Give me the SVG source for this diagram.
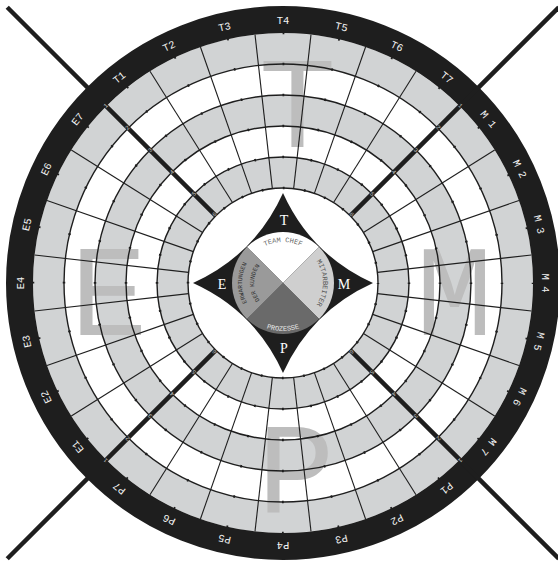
<svg xmlns="http://www.w3.org/2000/svg" width="558" height="563" viewBox="0 0 558 563">
<style>
.band{fill:#d1d3d4}
.w{fill:#fff}
.ring{fill:none;stroke:#1e1e1e;stroke-width:1.4}
.tick{fill:none;stroke:#1e1e1e;stroke-width:2.5}
.rad{stroke:#1e1e1e;stroke-width:1.1}
.diag{stroke:#1e1e1e;stroke-width:4.5}
.big{font-family:"Liberation Mono",monospace;font-size:129px;fill:#bdbdbd;text-anchor:middle}
.lab{font-family:"Liberation Mono",monospace;font-size:10.5px;fill:#f2f2f2;text-anchor:middle}
.dg{font-family:"Liberation Mono",monospace;font-size:6px;fill:#c8c8c8;text-anchor:middle}
.cl{font-family:"Liberation Serif",serif;font-size:14px;fill:#fff;text-anchor:middle}
.ct{font-family:"Liberation Mono",monospace;font-size:7px;text-anchor:middle}
.cs{font-family:"Liberation Mono",monospace;font-size:6.2px;text-anchor:middle}
</style>
<defs>
<line id="rl" x1="283" y1="33" x2="283" y2="188" class="rad"/>
<line id="dl" x1="283" y1="188" x2="283" y2="-107" class="diag"/>
<path id="pt" d="M 242 283 A 41 41 0 0 1 324 283"/>
<path id="pr" d="M 283 243 A 40 40 0 0 1 283 323"/>
<path id="pb" d="M 235 283 A 48 48 0 0 0 331 283"/>
<path id="pl1" d="M 283 324 A 41 41 0 0 1 283 242"/>
<path id="pl2" d="M 283 312 A 29 29 0 0 1 283 254"/>
</defs>
<rect width="558" height="563" fill="#fff"/>
<g id="bands">
<circle cx="283" cy="283" r="250" class="band"/>
<circle cx="283" cy="283" r="219" class="w"/>
<circle cx="283" cy="283" r="188" class="band"/>
<circle cx="283" cy="283" r="157" class="w"/>
<circle cx="283" cy="283" r="126" class="band"/>
<circle cx="283" cy="283" r="95" class="w"/>
</g>
<g id="big-letters">
<text class="big" x="297.5" y="147">T</text>
<text class="big" x="109" y="335">E</text>
<text class="big" x="454.5" y="335">M</text>
<text class="big" x="296" y="513">P</text>
</g>
<g id="connectors">
<use href="#rl" transform="rotate(-45 283 283)"/>
<use href="#rl" transform="rotate(-32.143 283 283)"/>
<use href="#rl" transform="rotate(-19.286 283 283)"/>
<use href="#rl" transform="rotate(-6.429 283 283)"/>
<use href="#rl" transform="rotate(6.429 283 283)"/>
<use href="#rl" transform="rotate(19.286 283 283)"/>
<use href="#rl" transform="rotate(32.143 283 283)"/>
<use href="#rl" transform="rotate(45 283 283)"/>
<use href="#rl" transform="rotate(57.857 283 283)"/>
<use href="#rl" transform="rotate(70.714 283 283)"/>
<use href="#rl" transform="rotate(83.571 283 283)"/>
<use href="#rl" transform="rotate(96.429 283 283)"/>
<use href="#rl" transform="rotate(109.286 283 283)"/>
<use href="#rl" transform="rotate(122.143 283 283)"/>
<use href="#rl" transform="rotate(135 283 283)"/>
<use href="#rl" transform="rotate(147.857 283 283)"/>
<use href="#rl" transform="rotate(160.714 283 283)"/>
<use href="#rl" transform="rotate(173.571 283 283)"/>
<use href="#rl" transform="rotate(186.429 283 283)"/>
<use href="#rl" transform="rotate(199.286 283 283)"/>
<use href="#rl" transform="rotate(212.143 283 283)"/>
<use href="#rl" transform="rotate(225 283 283)"/>
<use href="#rl" transform="rotate(237.857 283 283)"/>
<use href="#rl" transform="rotate(250.714 283 283)"/>
<use href="#rl" transform="rotate(263.571 283 283)"/>
<use href="#rl" transform="rotate(276.429 283 283)"/>
<use href="#rl" transform="rotate(289.286 283 283)"/>
<use href="#rl" transform="rotate(302.143 283 283)"/>
<circle cx="283" cy="283" r="95" class="ring"/>
<circle cx="283" cy="283" r="126" class="ring"/>
<circle cx="283" cy="283" r="157" class="ring"/>
<circle cx="283" cy="283" r="188" class="ring"/>
<circle cx="283" cy="283" r="219" class="ring"/>
<circle cx="283" cy="283" r="95" class="tick" stroke-dasharray="1.8 19.518" stroke-dashoffset="0.9"/>
<circle cx="283" cy="283" r="126" class="tick" stroke-dasharray="1.8 26.474" stroke-dashoffset="0.9"/>
<circle cx="283" cy="283" r="157" class="tick" stroke-dasharray="1.8 33.431" stroke-dashoffset="0.9"/>
<circle cx="283" cy="283" r="188" class="tick" stroke-dasharray="1.8 40.387" stroke-dashoffset="0.9"/>
<circle cx="283" cy="283" r="219" class="tick" stroke-dasharray="1.8 47.344" stroke-dashoffset="0.9"/>
<circle cx="283" cy="283" r="250" class="tick" stroke-dasharray="1.8 54.300" stroke-dashoffset="0.9"/>
</g>
<g id="outer-ring">
<circle cx="283" cy="283" r="263.5" fill="none" stroke="#1e1e1e" stroke-width="27"/>
<text class="lab" x="283" y="23.7" transform="rotate(-38.571 283 283)">T1</text>
<text class="lab" x="283" y="23.7" transform="rotate(-25.714 283 283)">T2</text>
<text class="lab" x="283" y="23.7" transform="rotate(-12.857 283 283)">T3</text>
<text class="lab" x="283" y="23.7">T4</text>
<text class="lab" x="283" y="23.7" transform="rotate(12.857 283 283)">T5</text>
<text class="lab" x="283" y="23.7" transform="rotate(25.714 283 283)">T6</text>
<text class="lab" x="283" y="23.7" transform="rotate(38.571 283 283)">T7</text>
<text class="lab" x="283" y="23.7" transform="rotate(51.429 283 283)">M 1</text>
<text class="lab" x="283" y="23.7" transform="rotate(64.286 283 283)">M 2</text>
<text class="lab" x="283" y="23.7" transform="rotate(77.143 283 283)">M 3</text>
<text class="lab" x="283" y="23.7" transform="rotate(90 283 283)">M 4</text>
<text class="lab" x="283" y="23.7" transform="rotate(102.857 283 283)">M 5</text>
<text class="lab" x="283" y="23.7" transform="rotate(115.714 283 283)">M 6</text>
<text class="lab" x="283" y="23.7" transform="rotate(128.571 283 283)">M 7</text>
<text class="lab" x="283" y="23.7" transform="rotate(141.429 283 283)">P1</text>
<text class="lab" x="283" y="23.7" transform="rotate(154.286 283 283)">P2</text>
<text class="lab" x="283" y="23.7" transform="rotate(167.143 283 283)">P3</text>
<text class="lab" x="283" y="23.7" transform="rotate(180 283 283)">P4</text>
<text class="lab" x="283" y="23.7" transform="rotate(192.857 283 283)">P5</text>
<text class="lab" x="283" y="23.7" transform="rotate(205.714 283 283)">P6</text>
<text class="lab" x="283" y="23.7" transform="rotate(218.571 283 283)">P7</text>
<text class="lab" x="283" y="23.7" transform="rotate(231.429 283 283)">E1</text>
<text class="lab" x="283" y="23.7" transform="rotate(244.286 283 283)">E2</text>
<text class="lab" x="283" y="23.7" transform="rotate(257.143 283 283)">E3</text>
<text class="lab" x="283" y="23.7" transform="rotate(270 283 283)">E4</text>
<text class="lab" x="283" y="23.7" transform="rotate(282.857 283 283)">E5</text>
<text class="lab" x="283" y="23.7" transform="rotate(295.714 283 283)">E6</text>
<text class="lab" x="283" y="23.7" transform="rotate(308.571 283 283)">E7</text>
</g>
<g id="diagonals">
<use href="#dl" transform="rotate(-45 283 283)"/>
<use href="#dl" transform="rotate(45 283 283)"/>
<use href="#dl" transform="rotate(135 283 283)"/>
<use href="#dl" transform="rotate(225 283 283)"/>
<g transform="rotate(-45 283 283)">
<text class="dg" x="283" y="34">1</text><text class="dg" x="283" y="65">2</text><text class="dg" x="283" y="97">3</text><text class="dg" x="283" y="128">4</text><text class="dg" x="283" y="159">5</text><text class="dg" x="283" y="188">6</text>
</g>
<g transform="rotate(45 283 283)">
<text class="dg" x="283" y="34">1</text><text class="dg" x="283" y="65">2</text><text class="dg" x="283" y="97">3</text><text class="dg" x="283" y="128">4</text><text class="dg" x="283" y="159">5</text><text class="dg" x="283" y="188">6</text>
</g>
<g transform="rotate(135 283 283)">
<text class="dg" x="283" y="34">1</text><text class="dg" x="283" y="65">2</text><text class="dg" x="283" y="97">3</text><text class="dg" x="283" y="128">4</text><text class="dg" x="283" y="159">5</text><text class="dg" x="283" y="188">6</text>
</g>
<g transform="rotate(225 283 283)">
<text class="dg" x="283" y="34">1</text><text class="dg" x="283" y="65">2</text><text class="dg" x="283" y="97">3</text><text class="dg" x="283" y="128">4</text><text class="dg" x="283" y="159">5</text><text class="dg" x="283" y="188">6</text>
</g>
</g>
<g id="compass-star">
<path d="M283,193 Q311,255 373,283 Q311,311 283,373 Q255,311 193,283 Q255,255 283,193 Z" fill="#1e1e1e"/>
<text class="cl" x="284" y="224.5">T</text>
<text class="cl" x="222" y="288.5">E</text>
<text class="cl" x="344" y="288.5">M</text>
<text class="cl" x="284" y="352.5">P</text>
</g>
<g id="center-disk">
<path d="M283,283 L246.94,246.94 A51,51 0 0 1 319.06,246.94 Z" fill="#ffffff"/>
<path d="M283,283 L319.06,246.94 A51,51 0 0 1 319.06,319.06 Z" fill="#cfcfcf"/>
<path d="M283,283 L319.06,319.06 A51,51 0 0 1 246.94,319.06 Z" fill="#6a6a6a"/>
<path d="M283,283 L246.94,319.06 A51,51 0 0 1 246.94,246.94 Z" fill="#9a9a9a"/>
<text class="ct" fill="#666"><textPath href="#pt" startOffset="50%">TEAM CHEF</textPath></text>
<text class="ct" fill="#555"><textPath href="#pr" startOffset="50%">MITARBEITER</textPath></text>
<text class="ct" fill="#e6e6e6"><textPath href="#pb" startOffset="50%">PROZESSE</textPath></text>
<text class="cs" fill="#333"><textPath href="#pl1" startOffset="50%">ERWARTUNGEN</textPath></text>
<text class="cs" fill="#333"><textPath href="#pl2" startOffset="50%">DER KUNDEN</textPath></text>
</g>
</svg>
